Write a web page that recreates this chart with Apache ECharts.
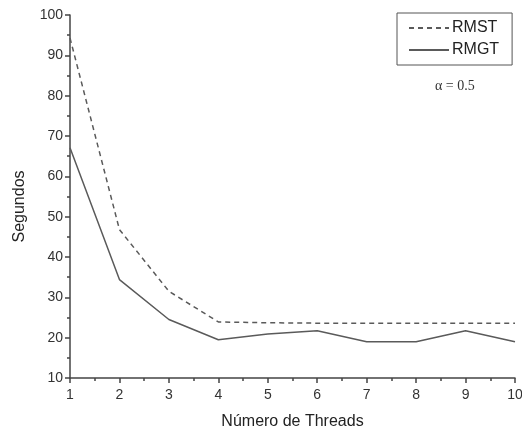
<!DOCTYPE html>
<html>
<head>
<meta charset="utf-8">
<script src="https://cdn.jsdelivr.net/npm/echarts@6/dist/echarts.min.js"></script>
<style>
  html, body { margin: 0; padding: 0; background: #fff; }
  #chart { width: 522px; height: 430px; }
</style>
</head>
<body>
<div id="chart"></div>
<script>
// Execution time (seconds) against the number of threads
const threads = [1, 2, 3, 4, 5, 6, 7, 8, 9, 10];
const rmst = [94.3, 46.8, 31.5, 23.9, 23.7, 23.6, 23.6, 23.6, 23.6, 23.6];
const rmgt = [67.1, 34.4, 24.5, 19.5, 20.9, 21.7, 19.0, 19.0, 21.7, 19.0];

const axisColor = '#444';
const lineColor = '#5a5a5a';
const font = 'Liberation Sans, Arial, sans-serif';

const chart = echarts.init(document.getElementById('chart'), null, { renderer: 'canvas' });

const pairs = (ys) => threads.map((x, i) => [x, ys[i]]);

chart.setOption({
  animation: false,
  backgroundColor: '#fff',
  grid: { left: 70, right: 7, top: 15, bottom: 52, containLabel: false, outerBoundsMode: 'none' },
  legend: {
    orient: 'vertical',
    left: 397,
    top: 13,
    width: 114,
    padding: [7, 13, 7, 11],
    itemGap: 6,
    itemWidth: 40,
    itemHeight: 15,
    borderColor: '#555',
    borderWidth: 1,
    borderRadius: 0,
    itemStyle: { opacity: 0 },
    textStyle: { fontFamily: font, fontSize: 16, color: '#222', padding: [0, 0, 0, -2] },
    data: ['RMST', 'RMGT']
  },
  xAxis: {
    type: 'value',
    min: 1, max: 10, interval: 1,
    name: 'Número de Threads',
    nameLocation: 'middle',
    nameGap: 36,
    nameTextStyle: { fontFamily: font, fontSize: 16, color: '#222' },
    axisLine: { show: true, lineStyle: { color: axisColor, width: 1.5 } },
    axisTick: { show: true, inside: false, length: 5, lineStyle: { color: axisColor, width: 1.5 } },
    minorTick: { show: true, splitNumber: 2, length: 3, lineStyle: { color: axisColor, width: 1.5 } },
    axisLabel: { fontFamily: font, fontSize: 14, color: '#333', margin: 10 },
    splitLine: { show: false }
  },
  yAxis: {
    type: 'value',
    min: 10, max: 100, interval: 10,
    name: 'Segundos',
    nameLocation: 'middle',
    nameGap: 42,
    nameRotate: 90,
    nameTextStyle: { fontFamily: font, fontSize: 16, color: '#222', padding: [0, 20, 0, 0] },
    axisLine: { show: true, lineStyle: { color: axisColor, width: 1.5 } },
    axisTick: { show: true, inside: false, length: 5, lineStyle: { color: axisColor, width: 1.5 } },
    minorTick: { show: true, splitNumber: 2, length: 3, lineStyle: { color: axisColor, width: 1.5 } },
    axisLabel: { fontFamily: font, fontSize: 14, color: '#333', margin: 7 },
    splitLine: { show: false }
  },
  series: [
    {
      name: 'RMST',
      type: 'line',
      data: pairs(rmst),
      symbol: 'none',
      lineStyle: { color: lineColor, width: 1.5, type: [5, 4] },
      itemStyle: { color: lineColor }
    },
    {
      name: 'RMGT',
      type: 'line',
      data: pairs(rmgt),
      symbol: 'none',
      lineStyle: { color: lineColor, width: 1.5, type: 'solid' },
      itemStyle: { color: lineColor }
    }
  ],
  graphic: [
    {
      type: 'text',
      left: 435,
      top: 79,
      style: {
        text: 'α = 0.5',
        fontFamily: 'Liberation Serif, Times New Roman, serif',
        fontSize: 14,
        fill: '#333'
      }
    }
  ]
});
</script>
</body>
</html>
